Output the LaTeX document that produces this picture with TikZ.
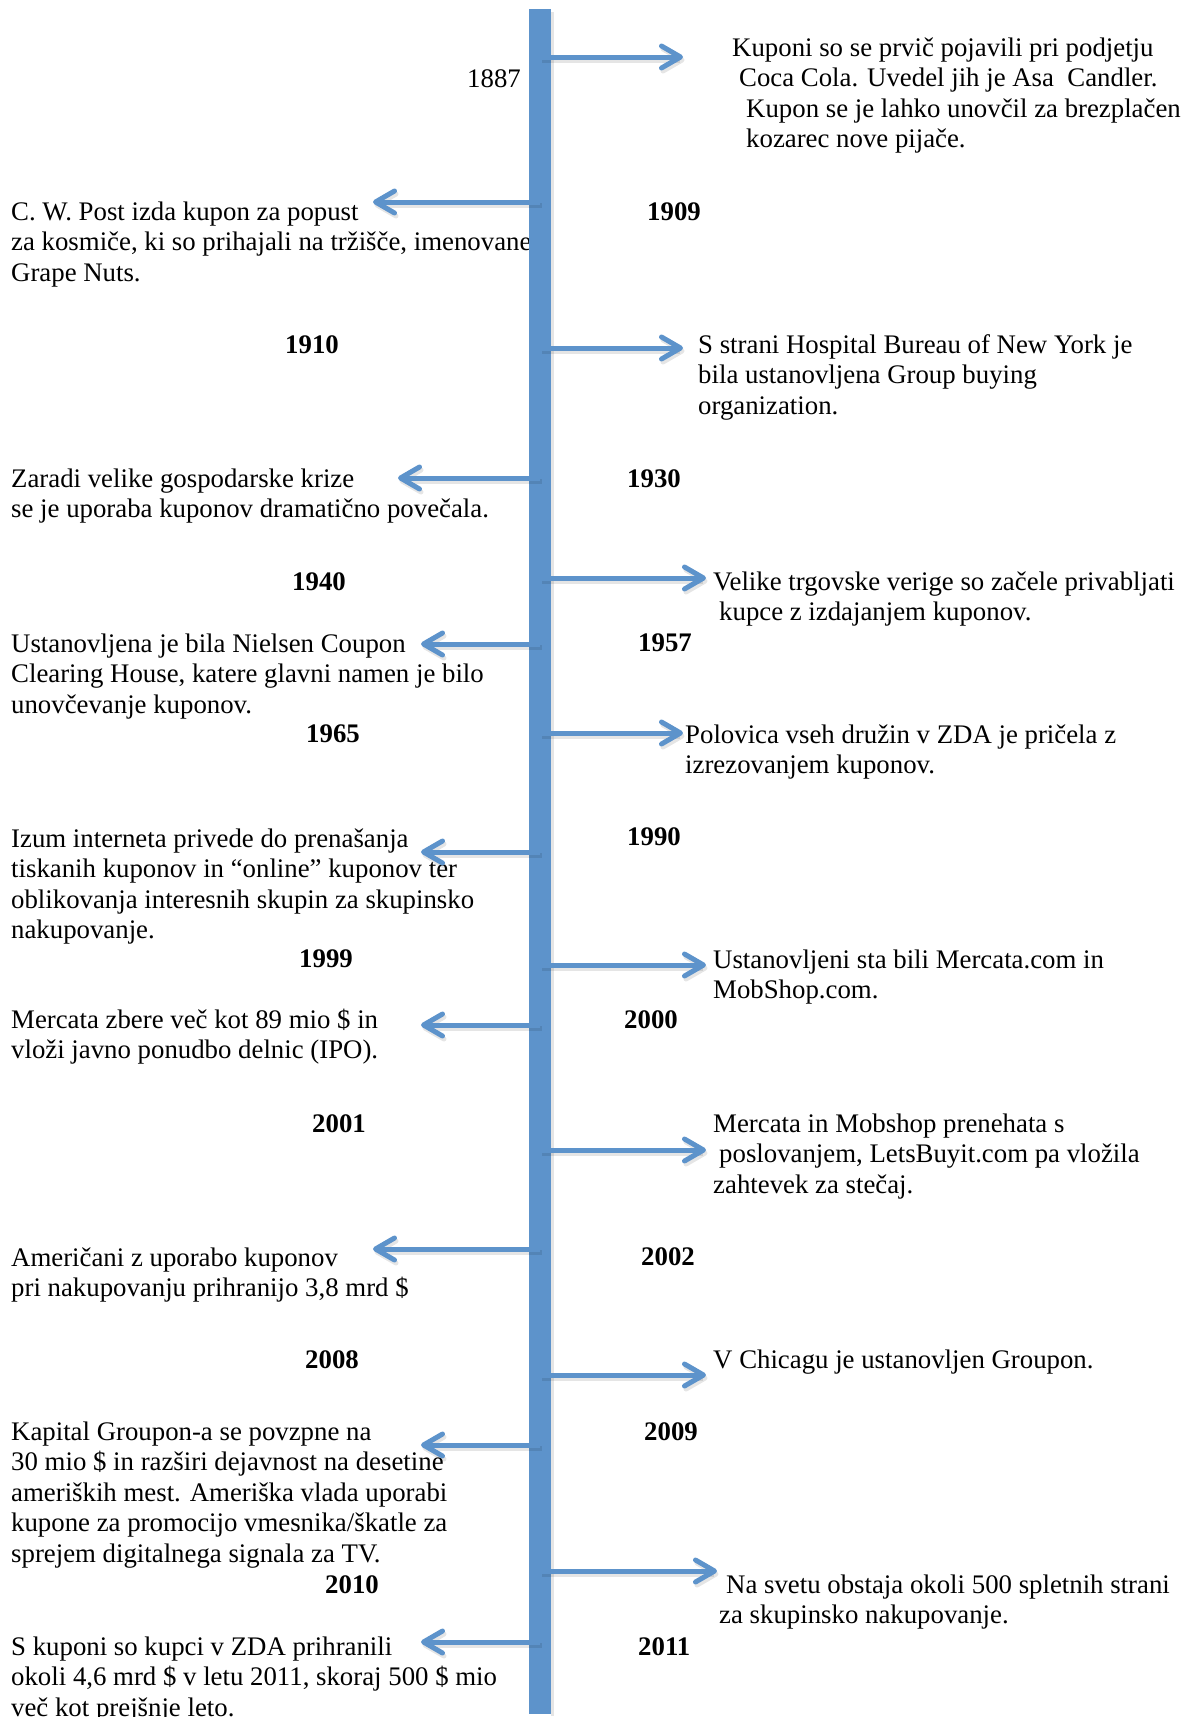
\documentclass[tikz,border=0pt]{standalone}
\usepackage{fontspec}
\setmainfont{Liberation Serif}
\usetikzlibrary{arrows.meta}
\definecolor{tlblue}{RGB}{93,147,203}
\begin{document}
\begin{tikzpicture}[x=1pt,y=-1pt,
  txt/.style={anchor=base west, inner sep=0pt, align=left, font=\fontsize{26.8}{30.6}\selectfont},
  yr/.style={anchor=base west, inner sep=0pt, font=\fontsize{26.8}{30.6}\selectfont\bfseries},
  yrr/.style={anchor=base west, inner sep=0pt, font=\fontsize{26.8}{30.6}\selectfont},
  arr/.style={line width=5pt, draw=tlblue, -{Straight Barb[length=19pt,width=22pt,round]}},
  arrshadow/.style={line width=5pt, draw=black, opacity=0.10, -{Straight Barb[length=19pt,width=22pt,round]}, transform canvas={shift={(1.5pt,-3pt)}}}
]
\useasboundingbox (0,0) rectangle (1187,1717);

% multi-line texts are anchored at the baseline of their LAST line

% ---------- texts, left side ----------
\node[txt] (tcw) at (11,281.2) {C. W. Post izda kupon za popust\\za kosmiče, ki so prihajali na tržišče, imenovane\\Grape Nuts.};
\node[txt] (tzar) at (11,517.6) {Zaradi velike gospodarske krize\\se je uporaba kuponov dramatično povečala.};
\node[txt] (tniel) at (11,713.2) {Ustanovljena je bila Nielsen Coupon\\Clearing House, katere glavni namen je bilo\\unovčevanje kuponov.};
\node[txt] (tizum) at (11,938.8) {Izum interneta privede do prenašanja\\tiskanih kuponov in “online” kuponov ter\\oblikovanja interesnih skupin za skupinsko\\nakupovanje.};
\node[txt] (tipo) at (11,1058.6) {Mercata zbere več kot 89 mio \$ in\\vloži javno ponudbo delnic (IPO).};
\node[txt] (tame) at (11,1296.6) {Američani z uporabo kuponov\\pri nakupovanju prihranijo 3,8 mrd \$};
\node[txt] (tkap) at (11,1562.4) {Kapital Groupon-a se povzpne na\\30 mio \$ in razširi dejavnost na desetine\\ameriških mest. Ameriška vlada uporabi\\kupone za promocijo vmesnika/škatle za\\sprejem digitalnega signala za TV.};
\node[txt] (tskup) at (11,1716.2) {S kuponi so kupci v ZDA prihranili\\okoli 4,6 mrd \$ v letu 2011, skoraj 500 \$ mio\\več kot prejšnje leto.};

% ---------- texts, right side ----------
\node[txt] (tkup) at (732,147.8) {Kuponi so se prvič pojavili pri podjetju\\\hspace*{7pt}Coca Cola. Uvedel jih je Asa\ \ Candler.\\\hspace*{14pt}Kupon se je lahko unovčil za brezplačen\\\hspace*{14pt}kozarec nove pijače.};
\node[txt] (thosp) at (698,414.2) {S strani Hospital Bureau of New York je\\bila ustanovljena Group buying\\organization.};
\node[txt] (tvel) at (713,620.6) {Velike trgovske verige so začele privabljati\\\hspace*{6pt}kupce z izdajanjem kuponov.};
\node[txt] (tpol) at (685,773.6) {Polovica vseh družin v ZDA je pričela z\\izrezovanjem kuponov.};
\node[txt] (tust) at (713,998.6) {Ustanovljeni sta bili Mercata.com in\\MobShop.com.};
\node[txt] (tmob) at (713,1193.2) {Mercata in Mobshop prenehata s\\\hspace*{6pt}poslovanjem, LetsBuyit.com pa vložila\\zahtevek za stečaj.};
\node[txt] (tchi) at (713,1368) {V Chicagu je ustanovljen Groupon.};
\node[txt] (tsvet) at (719,1623.6) {\hspace*{7pt}Na svetu obstaja okoli 500 spletnih strani\\za skupinsko nakupovanje.};

% ---------- years ----------
\node[yrr] (y1887) at (467,87) {1887};
\node[yr] (y1909) at (647,220) {1909};
\node[yr] (y1910) at (285,353) {1910};
\node[yr] (y1930) at (627,487) {1930};
\node[yr] (y1940) at (292,590) {1940};
\node[yr] (y1957) at (638,651) {1957};
\node[yr] (y1965) at (306,742) {1965};
\node[yr] (y1990) at (627,845) {1990};
\node[yr] (y1999) at (299,967) {1999};
\node[yr] (y2000) at (624,1028) {2000};
\node[yr] (y2001) at (312,1132) {2001};
\node[yr] (y2002) at (641,1265) {2002};
\node[yr] (y2008) at (305,1368) {2008};
\node[yr] (y2009) at (644,1440) {2009};
\node[yr] (y2010) at (325,1593) {2010};
\node[yr] (y2011) at (638,1655) {2011};

% ---------- timeline bar ----------
\fill[black, opacity=0.10] (551,12) rectangle (554,1716);
\fill[tlblue] (529,9) rectangle (551,1714);

% ---------- coordinates on the bar and arrow tips ----------
\foreach \n/\y/\t in {r1/57/683, r2/348/683, r3/578/706, r4/733/683, r5/965/706, r6/1150/706, r7/1375/706, r8/1571/717,
                      l1/202/373, l2/478/398, l3/644/421, l4/852/421, l5/1025/421, l6/1249/373, l7/1445/421, l8/1642/421}{
  \coordinate (b\n) at (540,\y);
  \coordinate (e\n) at (\t,\y);
}

\foreach \n in {r1,r2,r3,r4,r5,r6,r7,r8,l1,l2,l3,l4,l5,l6,l7,l8}{
  \draw[arrshadow] (b\n) -- (e\n);
}
\foreach \n in {r1,r2,r3,r4,r5,r6,r7,r8,l1,l2,l3,l4,l5,l6,l7,l8}{
  \draw[arr] (b\n) -- (e\n);
}
\end{tikzpicture}
\end{document}
